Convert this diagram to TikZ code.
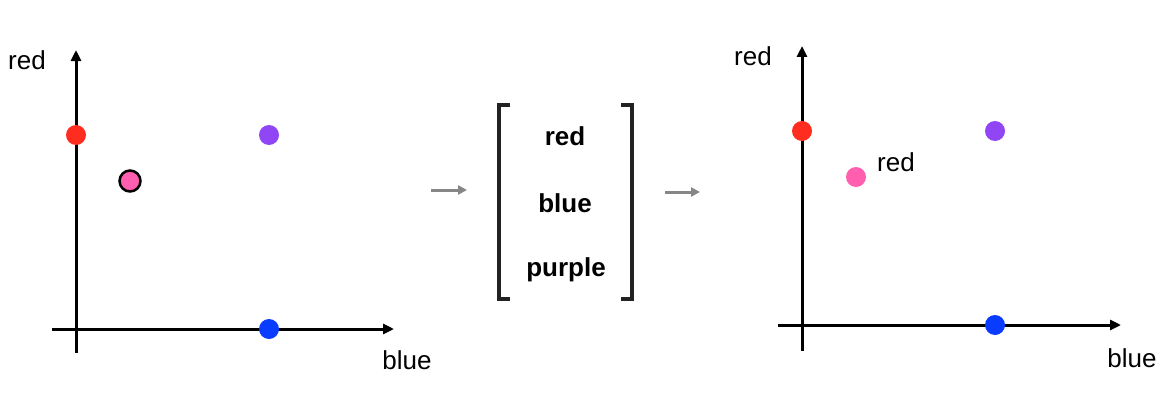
\documentclass[tikz,border=0pt]{standalone}
\usepackage{fontspec}
\setmainfont{Liberation Sans}
\usetikzlibrary{arrows.meta}
\definecolor{dred}{HTML}{FF2D20}
\definecolor{dpurple}{HTML}{9146F5}
\definecolor{dpink}{HTML}{FF5FAE}
\definecolor{dblue}{HTML}{0A3CFF}
\definecolor{brk}{HTML}{222222}
\tikzset{
  axis/.style={line width=3pt, -{Triangle[length=11pt,width=10pt]}},
  axisbase/.style={line width=3pt},
  dot/.style={circle, inner sep=0pt, minimum size=20pt, fill=#1},
  lbl/.style={font=\fontsize{26}{30}\selectfont, inner sep=0pt},
  blbl/.style={font=\fontsize{26}{30}\selectfont\bfseries, inner sep=0pt},
  flow/.style={line width=3pt, draw=gray!95, -{Triangle[length=9pt,width=9pt]}},
  bracket/.style={line width=3.5pt, draw=brk}
}
\begin{document}
\begin{tikzpicture}[x=1pt,y=-1pt]
\useasboundingbox (0,0) rectangle (1174,404);
% left plot
\coordinate (lyb) at (76,353);
\coordinate (lyt) at (76,50);
\coordinate (lxl) at (52,329);
\coordinate (lxr) at (394,329);
\draw[axis] (lyb) -- (lyt);
\draw[axis] (lxl) -- (lxr);
\node[lbl] (lred) at (27,60) {red};
\node[lbl] (lblue) at (407,360) {blue};
\node[dot=dred] (lr) at (76,135) {};
\node[dot=dpurple] (lp) at (269,135) {};
\node[dot=dblue] (lb) at (269,329) {};
\node[dot=dpink, draw=black, line width=2.5pt, minimum size=21pt] (lk) at (130,181) {};
% middle
\coordinate (a1s) at (431,190);
\coordinate (a1e) at (467,190);
\draw[flow] (a1s) -- (a1e);
\coordinate (blt) at (510,105);
\coordinate (blb) at (510,299);
\coordinate (brt) at (621,105);
\coordinate (brb) at (621,299);
\draw[bracket] (blt) -| (499,299) -- (blb);
\draw[bracket] (brt) -| (632,299) -- (brb);
\node[blbl] (mred) at (565,136) {red};
\node[blbl] (mblue) at (565,203) {blue};
\node[blbl] (mpurple) at (566,270) {purple};
\coordinate (a2s) at (665,192);
\coordinate (a2e) at (700,192);
\draw[flow] (a2s) -- (a2e);
% right plot
\coordinate (ryb) at (802,351);
\coordinate (ryt) at (802,46);
\coordinate (rxl) at (778,325);
\coordinate (rxr) at (1121,325);
\draw[axis] (ryb) -- (ryt);
\draw[axis] (rxl) -- (rxr);
\node[lbl] (rred) at (753,56) {red};
\node[lbl] (rblue) at (1132,358) {blue};
\node[dot=dred] (rr) at (802,131) {};
\node[dot=dpurple] (rp) at (995,131) {};
\node[dot=dblue] (rb) at (995,325) {};
\node[dot=dpink] (rk) at (856,177) {};
\node[lbl] (rklbl) at (896,162) {red};
\end{tikzpicture}
\end{document}
